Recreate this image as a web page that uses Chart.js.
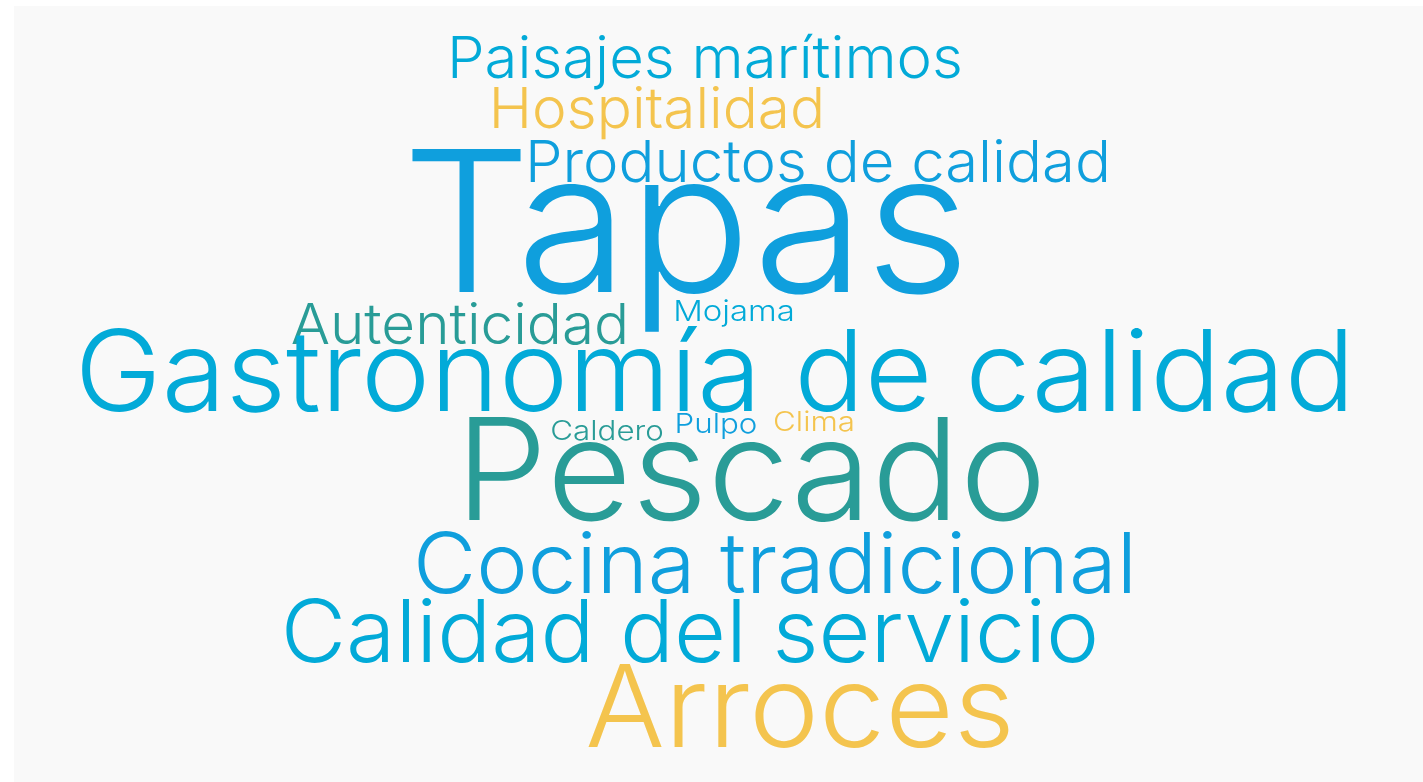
<!DOCTYPE html>
<html>
<head>
<meta charset="utf-8">
<script src="https://cdn.jsdelivr.net/npm/chart.js@4/dist/chart.umd.min.js"></script>
<style>
  body { margin: 0; background: #ffffff; }
  .panel {
    position: absolute;
    left: 14px;
    top: 6px;
    width: 1409px;
    height: 776px;
    background: #f9f9f9;
  }
</style>
</head>
<body>
<div class="panel">
  <canvas id="cloud" width="1409" height="776"></canvas>
</div>
<script>
// words and how often they were mentioned
const words = [
  'Paisajes marítimos', 'Hospitalidad', 'Productos de calidad', 'Tapas',
  'Autenticidad', 'Mojama', 'Gastronomía de calidad', 'Caldero', 'Pulpo',
  'Clima', 'Pescado', 'Cocina tradicional', 'Calidad del servicio', 'Arroces'
];
const mentions = [42, 41, 42, 143, 41, 21, 82, 20, 20, 20, 103, 61, 63, 83];

// word cloud layout (centre x, baseline y) in 0-100 units
const layoutX = [49.04, 45.63, 57.06, 47.69, 31.65, 51.10, 49.75, 42.09, 49.82, 56.78, 52.31, 54.01, 47.98, 55.78];
const layoutY = [9.28, 15.72, 22.68, 36.86, 43.56, 40.59, 52.19, 55.93, 55.03, 54.77, 66.24, 75.64, 84.54, 95.49];

const BLUE = '#0f9fdd';
const CYAN = '#02aad8';
const TEAL = '#299c97';
const GOLD = '#f4c44e';
const wordColors = [CYAN, GOLD, BLUE, BLUE, TEAL, CYAN, CYAN, TEAL, BLUE, GOLD, TEAL, BLUE, CYAN, GOLD];

const FONT = 'Inter';
const WEIGHT = 300;
const STRETCH = 1.04; // horizontal widening of the glyphs

const wordPlugin = {
  id: 'wordPlugin',
  afterDatasetsDraw(chart) {
    const ctx = chart.ctx;
    const meta = chart.getDatasetMeta(0);
    // cap height of the font, to turn mentions into pixels
    ctx.font = WEIGHT + ' 100px ' + FONT;
    const capRatio = ctx.measureText('H').actualBoundingBoxAscent / 100;
    meta.data.forEach((pt, i) => {
      const size = mentions[i] / capRatio;
      ctx.save();
      ctx.font = WEIGHT + ' ' + size + 'px ' + FONT;
      ctx.fillStyle = wordColors[i];
      ctx.textAlign = 'center';
      ctx.textBaseline = 'alphabetic';
      ctx.translate(pt.x, pt.y);
      ctx.scale(mentions[i] < 30 ? STRETCH * 1.1 : STRETCH, 1);
      ctx.fillText(words[i], 0, 0);
      ctx.restore();
    });
  }
};

new Chart(document.getElementById('cloud'), {
  type: 'scatter',
  data: {
    labels: words,
    datasets: [{
      data: words.map((w, i) => ({ x: layoutX[i], y: layoutY[i] })),
      pointRadius: 0,
      backgroundColor: wordColors
    }]
  },
  options: {
    responsive: false,
    animation: false,
    layout: { padding: 0 },
    plugins: { legend: { display: false }, tooltip: { enabled: false } },
    scales: {
      x: { type: 'linear', min: 0, max: 100, display: false },
      y: { type: 'linear', min: 0, max: 100, reverse: true, display: false }
    }
  },
  plugins: [wordPlugin]
});
</script>
</body>
</html>
